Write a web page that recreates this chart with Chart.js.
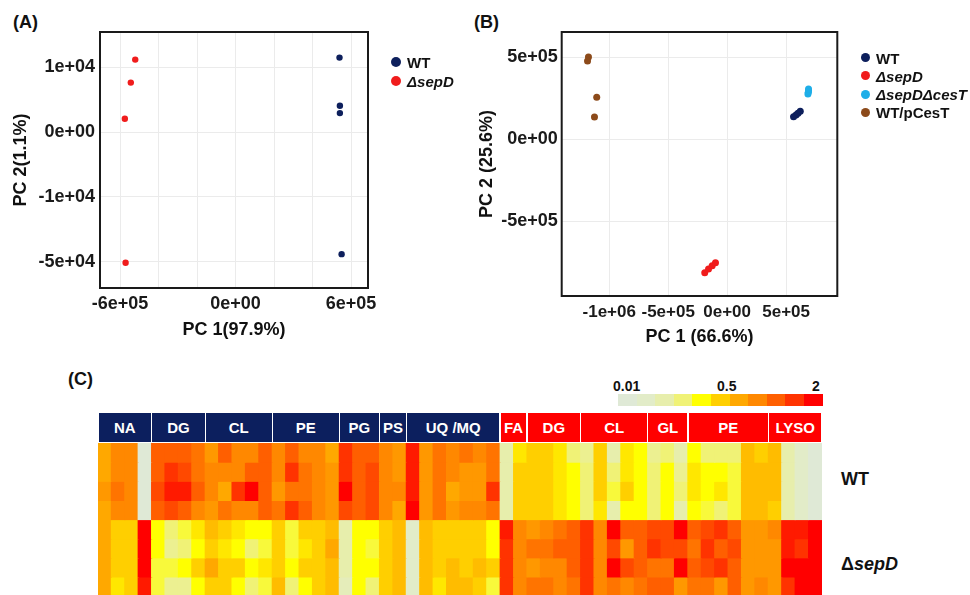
<!DOCTYPE html>
<html><head><meta charset="utf-8">
<script src="https://cdn.jsdelivr.net/npm/chart.js@4.4.0/dist/chart.umd.min.js"></script>
<style>
html,body{margin:0;padding:0;width:970px;height:595px;overflow:hidden;background:#fff;font-family:"Liberation Sans",Arial,sans-serif;}
canvas{position:absolute;}
.plab{position:absolute;font-weight:bold;font-size:18px;line-height:18px;color:#111;}
.leg{position:absolute;font-weight:bold;font-size:15px;line-height:15px;color:#111;white-space:nowrap;}
.dot{position:absolute;border-radius:50%;}
.hdr{position:absolute;color:#fff;font-weight:bold;font-size:15px;display:flex;align-items:center;justify-content:center;overflow:hidden;}
.key{position:absolute;}
.klab{position:absolute;font-weight:bold;font-size:14px;line-height:14px;color:#111;}
.rlab{position:absolute;font-weight:bold;font-size:18px;line-height:18px;color:#111;white-space:nowrap;}
</style></head><body>
<div class="plab" style="left:13px;top:13px">(A)</div>
<div class="plab" style="left:474px;top:13px">(B)</div>
<div class="plab" style="left:68px;top:370px">(C)</div>
<canvas id="cA" width="480" height="345" style="left:0;top:0"></canvas>
<canvas id="cB" width="500" height="350" style="left:470px;top:0"></canvas>
<canvas id="cC" width="724" height="153" style="left:98px;top:443px"></canvas>
<div id="overlay"></div>
<script>
// ---------- Panel A: PCA (WT vs ΔsepD) ----------
const aWT_x   = [540000, 542000, 542000, 551000];
const aWT_y   = [11480, 4050, 2920, -18830];
const aSep_x  = [-521000, -544000, -575000, -571000];
const aSep_y  = [11170, 7630, 2050, -20150];
const aXGrid  = [-600000, -400000, -200000, 0, 200000, 400000, 600000];
const aXTicks = [-600000, 0, 600000];
const aXTickLabels = ['-6e+05', '0e+00', '6e+05'];
const aYTicks = [10000, 0, -10000, -20000];
const aYTickLabels = ['1e+04', '0e+00', '-1e+04', '-5e+04'];

// ---------- Panel B: PCA (4 strains) ----------
const bWT_x    = [563000, 584000, 601000, 620000];
const bWT_y    = [138000, 148000, 159000, 171000];
const bSep_x   = [-190000, -158000, -127000, -99000];
const bSep_y   = [-813000, -791000, -771000, -752000];
const bSC_x    = [685000, 688000, 690000, 690000];
const bSC_y    = [276000, 287000, 296000, 307000];
const bPC_x    = [-1176000, -1184000, -1106000, -1125000];
const bPC_y    = [502000, 477000, 256000, 136000];
const bXTicks  = [-1000000, -500000, 0, 500000];
const bXTickLabels = ['-1e+06', '-5e+05', '0e+00', '5e+05'];
const bYTicks  = [500000, 0, -500000];
const bYTickLabels = ['5e+05', '0e+00', '-5e+05'];

// ---------- Panel C: heatmap ----------
const blueGroups = ['NA', 'DG', 'CL', 'PE', 'PG', 'PS', 'UQ /MQ'];
const blueCounts = [4, 4, 5, 5, 3, 2, 7];
const redGroups  = ['FA', 'DG', 'CL', 'GL', 'PE', 'LYSO'];
const redCounts  = [2, 4, 5, 3, 6, 4];
const rowNames   = ['WT-1', 'WT-2', 'WT-3', 'WT-4', 'ΔsepD-1', 'ΔsepD-2', 'ΔsepD-3', 'ΔsepD-4'];
const keyTickLabels = ['0.01', '0.5', '2'];
// colour level of each cell (1 = 0.01 … 11 = 2, colour key bins)
const hWT1 = [7,8,8,1, 9,9,9,8.5, 7.5,9,8,8,9, 8,9,8,8,7, 10,9,9, 8,7.5, 10.5,7.5,8.5,8, 8.5,8,8.5, 3,5.5, 6,6,5.5,4, 3.5,6,3,5.5,5, 3.5,4,3, 5,4,4,4,6.5,6, 6.5,3,2,1];
const hWT2 = [7,8,8,1, 9,10,9.5,8.5, 8,8,8,9,9, 8,10,8.5,8,7.5, 10,9,9.5, 8,7.5, 10.5,7.5,8.5,8, 7.5,7.5,8.5, 3,6, 6,6,5.5,5, 4,6,4,5.5,5, 4,5,3.5, 5.5,5,5,4.5,6.5,6.5, 6.5,3,2,1];
const hWT3 = [7.5,8.5,8,1, 9.5,10.5,10.5,9, 8,7,10,11,9, 7.5,8.5,8.5,8,7.5, 11,9,9.5, 8,8, 10.5,7.5,8.5,7, 7.5,7.5,10, 3,6, 6,6,5.5,5, 4,6,4.5,6,5, 4,5,4, 5.5,5,5.5,4.5,6.5,6.5, 6.5,3,2,1];
const hWT4 = [7,8,8,1, 9,9.5,9,8, 7.5,8.5,8,8,9, 8.5,10,9,8,7.5, 9.5,9,9.5, 8,7, 11,7.5,8.5,7.5, 8,8,8.5, 3,6, 6,6,5.5,5, 4,5.5,3,5,5, 4,5,3, 5,4.5,4,4.5,6.5,6.5, 6,3,2,1];
const hSep1 = [7,6,6,11, 5,4,4.5,5.5, 6.5,6,5.5,5,5, 6,4.5,6,6,6.5, 3,5,5, 6,6.5, 2,6.5,6,6, 6,6,5, 10.5,8, 7.5,8,8.5,9, 10,8,11,9,9, 9.5,9.5,11, 9,9.5,10,9,7.5,7.5, 8,10.5,10.5,11];
const hSep2 = [7,6,6,11, 5,3.5,4,5, 6,5.5,5,4,4.5, 6,4.5,5.5,6,7, 3,5,4.5, 6,6.5, 2,6.5,6,6, 6,6,5, 10,8, 8.5,8.5,9,9, 10,8,9.5,7.5,9, 10,9.5,9.5, 8.5,10,9,9.5,7.5,7.5, 7.5,10.5,10,11];
const hSep3 = [7,6,6,11, 4.5,4.5,5,6, 7,6,6,5,5.5, 6,5,6,6,6.5, 3,5,5, 6,6.5, 2,6.5,6,6.5, 6,6.5,6, 10,8, 7.5,8,8,9, 10,8,11,9.5,9, 8.5,8.5,11, 9,9.5,10,9,7.5,7.5, 7.5,11,11,11];
const hSep4 = [7,5.5,6,10.5, 4.5,3.5,3.5,5, 6,6,5,4,4.5, 6.5,4,5,6,6.5, 2.5,5,4, 6,6.5, 2,6.5,5.5,6.5, 6.5,6,4.5, 10,8, 8.5,8.5,8,8.5, 10,8,8.5,8,8.5, 9,9,7.5, 8.5,8.5,7.5,9,7.5,8, 7.5,10,11,11];
const heatRows = [hWT1, hWT2, hWT3, hWT4, hSep1, hSep2, hSep3, hSep4];

// ---------- colours ----------
const cWT = '#0d1f5c', cSep = '#f01c1c', cSC = '#1eaee8', cPC = '#8c4a1a';
const navy = '#0c1f5e', red = '#ff0000';
const keyColors = ['#dfe9d6','#e2ecc8','#e7eeac','#f0f276','#ffff00','#ffcf00','#ffa800','#ff8800','#ff5f00','#ff3300','#ff0000'];

Chart.defaults.font.family = '"Liberation Sans", Arial, sans-serif';
Chart.defaults.color = '#1a1a1a';

function hexToRgb(h){return [parseInt(h.slice(1,3),16),parseInt(h.slice(3,5),16),parseInt(h.slice(5,7),16)];}
function levelColor(l){
  const t = Math.min(Math.max(l - 1, 0), 10);
  const i = Math.floor(t), f = t - i;
  const a = hexToRgb(keyColors[i]), b = hexToRgb(keyColors[Math.min(i + 1, 10)]);
  return 'rgb(' + a.map((v, k) => Math.round(v + (b[k] - v) * f)).join(',') + ')';
}
const pts = (xs, ys) => xs.map((x, i) => ({x: x, y: ys[i]}));
const boxPlugin = {id: 'box', afterDraw(chart){
  const {ctx, chartArea: a} = chart;
  ctx.save(); ctx.strokeStyle = '#1a1a1a'; ctx.lineWidth = 2;
  ctx.strokeRect(a.left, a.top, a.right - a.left, a.bottom - a.top); ctx.restore();
}};
const titleFont = {size: 18, weight: 'bold', lineHeight: 1};
function labelLookup(vals, labs){ return v => { const i = vals.indexOf(v); return i >= 0 ? labs[i] : ''; }; }

function pcaOptions(cfg){
  return {
    responsive: false, animation: false, events: [],
    layout: {padding: {top: cfg.top, right: cfg.right, left: 0, bottom: 0}},
    plugins: {legend: {display: false}, tooltip: {enabled: false}},
    scales: {
      x: {type: 'linear', min: cfg.xmin, max: cfg.xmax,
          afterBuildTicks: s => { s.ticks = cfg.xgrid.map(v => ({value: v})); },
          afterFit: s => { s.height = cfg.xh; },
          ticks: {callback: labelLookup(cfg.xticks, cfg.xlabels), autoSkip: false, maxRotation: 0, padding: cfg.xpad, font: {size: cfg.xfs, weight: 'bold'}, color: '#1a1a1a'},
          grid: {color: '#ebebeb', lineWidth: 1, drawTicks: false},
          border: {display: false},
          title: {display: true, text: cfg.xtitle, font: titleFont, color: '#111', padding: {top: 0, bottom: cfg.xtpad}}},
      y: {type: 'linear', min: cfg.ymin, max: cfg.ymax,
          afterBuildTicks: s => { s.ticks = cfg.yticks.map(v => ({value: v})); },
          afterFit: s => { s.width = cfg.yw; },
          ticks: {callback: labelLookup(cfg.yticks, cfg.ylabels), autoSkip: false, padding: cfg.ypad, font: {size: 18, weight: 'bold'}, color: '#1a1a1a'},
          grid: {color: '#ebebeb', lineWidth: 1, drawTicks: false},
          border: {display: false},
          title: {display: true, text: cfg.ytitle, font: titleFont, color: '#111', padding: {top: cfg.ytpad, bottom: 0}}}
    }
  };
}

new Chart(document.getElementById('cA'), {
  type: 'scatter',
  data: {datasets: [
    {label: 'WT', data: pts(aWT_x, aWT_y), backgroundColor: cWT, pointRadius: 3.2, borderWidth: 0},
    {label: 'ΔsepD', data: pts(aSep_x, aSep_y), backgroundColor: cSep, pointRadius: 3.2, borderWidth: 0}
  ]},
  options: pcaOptions({top: 32, right: 112, xmin: -704000, xmax: 688000, ymin: -24050, ymax: 15430,
    xgrid: aXGrid, xticks: aXTicks, xlabels: aXTickLabels, yticks: aYTicks, ylabels: aYTickLabels,
    xh: 57, yw: 100, xpad: 5, ypad: 5, xfs: 18, xtitle: 'PC 1(97.9%)', ytitle: 'PC 2(1.1%)', xtpad: 6, ytpad: 12.5}),
  plugins: [boxPlugin]
});

new Chart(document.getElementById('cB'), {
  type: 'scatter',
  data: {datasets: [
    {label: 'WT', data: pts(bWT_x, bWT_y), backgroundColor: cWT, pointRadius: 3.5, borderWidth: 0},
    {label: 'ΔsepD', data: pts(bSep_x, bSep_y), backgroundColor: cSep, pointRadius: 3.5, borderWidth: 0},
    {label: 'ΔsepDΔcesT', data: pts(bSC_x, bSC_y), backgroundColor: cSC, pointRadius: 3.5, borderWidth: 0},
    {label: 'WT/pCesT', data: pts(bPC_x, bPC_y), backgroundColor: cPC, pointRadius: 3.5, borderWidth: 0}
  ]},
  options: pcaOptions({top: 32, right: 132.7, xmin: -1403000, xmax: 934000, ymin: -955000, ymax: 654000,
    xgrid: bXTicks, xticks: bXTicks, xlabels: bXTickLabels, yticks: bYTicks, ylabels: bYTickLabels,
    xh: 54, yw: 91.7, xpad: 6, ypad: 4, xfs: 17, xtitle: 'PC 1 (66.6%)', ytitle: 'PC 2 (25.6%)', xtpad: 4.3, ytpad: 8}),
  plugins: [boxPlugin]
});

// heatmap columns
const colNames = [];
blueGroups.forEach((g, gi) => { for (let k = 0; k < blueCounts[gi]; k++) colNames.push('WT-enriched ' + g + ' ' + (k + 1)); });
redGroups.forEach((g, gi) => { for (let k = 0; k < redCounts[gi]; k++) colNames.push('ΔsepD-enriched ' + g + ' ' + (k + 1)); });

new Chart(document.getElementById('cC'), {
  type: 'bar',
  data: {labels: colNames, datasets: heatRows.map((row, r) => ({
    label: rowNames[r], data: row.map(() => 1), backgroundColor: row.map(levelColor),
    borderWidth: 0, barPercentage: 1, categoryPercentage: 1, inflateAmount: 0.6, stack: 'cells'}))},
  options: {responsive: false, animation: false, events: [], layout: {padding: 0},
    plugins: {legend: {display: false}, tooltip: {enabled: false}},
    scales: {x: {display: false, stacked: true}, y: {display: false, stacked: true, min: 0, max: 8, reverse: true}}}
});

// ---------- overlays: legends, header, colour key, row labels ----------
const ov = document.getElementById('overlay');
function add(html){ ov.insertAdjacentHTML('beforeend', html); }
const legA = [{t: 'WT', c: cWT}, {t: '<i>ΔsepD</i>', c: cSep}];
legA.forEach((it, i) => {
  const cy = 61.7 + i * 19.5;
  add(`<div class="dot" style="left:${395.7-5}px;top:${cy-5}px;width:10px;height:10px;background:${it.c}"></div>`);
  add(`<div class="leg" style="left:407px;top:${cy-7.2}px">${it.t}</div>`);
});
const legB = [{t: 'WT', c: cWT}, {t: '<i>ΔsepD</i>', c: cSep}, {t: '<i>ΔsepDΔcesT</i>', c: cSC}, {t: 'WT/pCesT', c: cPC}];
legB.forEach((it, i) => {
  const cy = 57.7 + i * 18.2;
  add(`<div class="dot" style="left:${865.7-4.5}px;top:${cy-4.5}px;width:9px;height:9px;background:${it.c}"></div>`);
  add(`<div class="leg" style="left:876px;top:${cy-7.2}px">${it.t}</div>`);
});
const cw = 724 / 54;
let col = 0;
function header(names, counts, color){
  names.forEach((n, i) => {
    const x = 98 + col * cw;
    add(`<div class="hdr" style="left:${x+0.75}px;top:413px;width:${counts[i]*cw-1.5}px;height:29px;background:${color}">${n}</div>`);
    col += counts[i];
  });
}
header(blueGroups, blueCounts, navy);
header(redGroups, redCounts, red);
const kw = (822.7 - 618) / keyColors.length;
keyColors.forEach((c, i) => add(`<div class="key" style="left:${618 + i*kw}px;top:394px;width:${kw+0.4}px;height:11.7px;background:${c}"></div>`));
add(`<div class="klab" style="left:613px;top:379px">${keyTickLabels[0]}</div>`);
add(`<div class="klab" style="left:717px;top:379px">${keyTickLabels[1]}</div>`);
add(`<div class="klab" style="left:812px;top:379px">${keyTickLabels[2]}</div>`);
add(`<div class="rlab" style="left:841px;top:469.5px">WT</div>`);
add(`<div class="rlab" style="left:841px;top:554.5px">Δ<i>sepD</i></div>`);
</script>
</body></html>
